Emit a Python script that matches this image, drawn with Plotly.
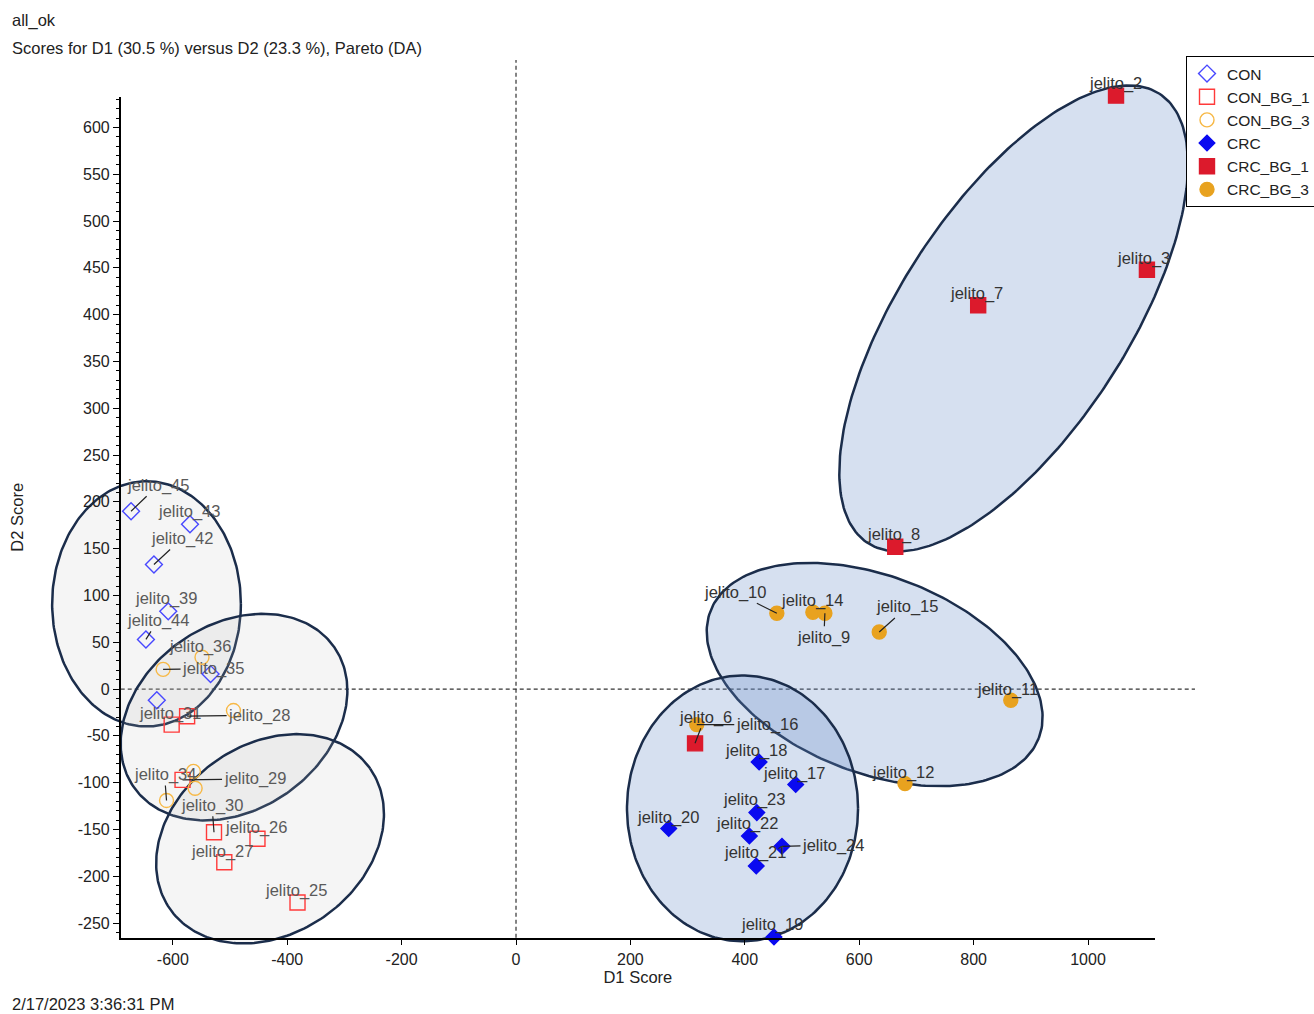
import numpy as np
import plotly.graph_objects as go

# ---------------- data ----------------
group_names = ["CON", "CON_BG_1", "CON_BG_3", "CRC", "CRC_BG_1", "CRC_BG_3"]

con_names = ["jelito_45", "jelito_43", "jelito_42", "jelito_39", "jelito_44", "jelito_40", "jelito_41"]
con_d1 = [-673, -570, -633, -608, -647, -534, -628]
con_d2 = [190, 176, 133, 83, 53, 16, -12]

con_bg1_names = ["jelito_31", "jelito_28", "jelito_29", "jelito_30", "jelito_26", "jelito_27", "jelito_25"]
con_bg1_d1 = [-602, -575, -583, -528, -452, -510, -382]
con_bg1_d2 = [-38, -29, -97, -153, -160, -185, -228]

con_bg3_names = ["jelito_36", "jelito_35", "jelito_32", "jelito_33", "jelito_34", "jelito_37"]
con_bg3_d1 = [-549, -617, -494, -564, -611, -561]
con_bg3_d2 = [34, 21, -23, -88, -119, -106]

crc_names = ["jelito_18", "jelito_17", "jelito_23", "jelito_20", "jelito_22", "jelito_24", "jelito_21", "jelito_19"]
crc_d1 = [425, 489, 421, 267, 408, 465, 420, 451]
crc_d2 = [-78, -102, -132, -149, -157, -168, -189, -265]

crc_bg1_names = ["jelito_2", "jelito_3", "jelito_7", "jelito_8", "jelito_6"]
crc_bg1_d1 = [1049, 1103, 808, 663, 313]
crc_bg1_d2 = [634, 448, 410, 152, -58]

crc_bg3_names = ["jelito_16", "jelito_10", "jelito_14", "jelito_9", "jelito_15", "jelito_11", "jelito_12"]
crc_bg3_d1 = [316, 456, 519, 540, 635, 865, 680]
crc_bg3_d2 = [-38, 81, 82, 81, 61, -12, -101]

# confidence ellipses: centre and two conjugate semi-axis vectors (data units)
ell_groups = ["CRC_BG_1", "CRC_BG_3", "CRC", "CON", "CON_BG_3", "CON_BG_1"]
ell_c_d1 = [870, 627, 396, -646, -493, -430]
ell_c_d2 = [396, 15.5, -127.5, 91, -30, -160]
ell_u_d1 = [255, 287, 202, 165, 175, 175]
ell_u_d2 = [240, -68, 0, 0, 75, 75]
ell_v_d1 = [-167, 62, 0, 0, 93, 95]
ell_v_d2 = [66, 98, 142, 131, -81, -83]

x_ticks = [-600, -400, -200, 0, 200, 400, 600, 800, 1000]
x_tick_labels = ["-600", "-400", "-200", "0", "200", "400", "600", "800", "1000"]
y_ticks = [-250, -200, -150, -100, -50, 0, 50, 100, 150, 200, 250, 300, 350, 400, 450, 500, 550, 600]
y_tick_labels = ["-250", "-200", "-150", "-100", "-50", "0", "50", "100", "150", "200", "250",
                 "300", "350", "400", "450", "500", "550", "600"]

# ---------------- styling ----------------
FONT = "Liberation Sans, Arial, sans-serif"
W, H = 1314, 1014
M_L, M_R, M_T, M_B = 40, 114, 55, 64
X_MAIN = [-832.2, 1195.8]      # full drawing area
Y_MAIN = [-278.8, 677.4]
X_DISP = [-691.1, 1117.1]      # drawn axes
Y_DISP = [-265.7, 632.8]
ZERO_V_TOP = 672
ZERO_H_RIGHT = 1187
TXT = "#222222"

styles = {
    "CON":      dict(symbol="diamond-open", color="#4848ff", size=13),
    "CON_BG_1": dict(symbol="square-open", color="#ff3a3a", size=15),
    "CON_BG_3": dict(symbol="circle-open", color="#f7b845", size=14),
    "CRC":      dict(symbol="diamond", color="#0a0af0", size=12),
    "CRC_BG_1": dict(symbol="square", color="#dc1a2c", size=15),
    "CRC_BG_3": dict(symbol="circle", color="#e8a21f", size=14),
}
CRC_FILL = "rgba(103,140,199,0.27)"
CON_FILL = "rgba(185,185,185,0.15)"
ell_fill = {"CRC": CRC_FILL, "CRC_BG_1": CRC_FILL, "CRC_BG_3": CRC_FILL,
            "CON": CON_FILL, "CON_BG_1": CON_FILL, "CON_BG_3": CON_FILL}
ELL_LINE = "#1b2d4b"

# label offsets in pixels (dx, dy screen, leader line?)
label_offsets = {
    "jelito_2": (-1, -12, False), "jelito_3": (-3, -11, False), "jelito_7": (-2, -12, False),
    "jelito_8": (-2, -12, False), "jelito_6": (10, -26, True), "jelito_16": (70, 0, True),
    "jelito_10": (-42, -21, True), "jelito_14": (-1, -12, False), "jelito_9": (-1, 24, True),
    "jelito_15": (28, -25, True), "jelito_11": (-3, -11, False), "jelito_12": (-2, -11, False),
    "jelito_18": (-3, -12, False), "jelito_17": (-2, -11, False), "jelito_23": (-3, -13, False),
    "jelito_20": (-1, -11, False), "jelito_22": (-2, -13, False), "jelito_24": (51, -1, True),
    "jelito_21": (-1, -13, False), "jelito_19": (-2, -13, False),
    "jelito_45": (27, -26, True), "jelito_43": (-1, -13, False), "jelito_42": (28, -26, True),
    "jelito_39": (-2, -13, False), "jelito_44": (12, -19, True), "jelito_36": (-2, -11, False),
    "jelito_35": (50, -1, True), "jelito_31": (-2, -11, False), "jelito_28": (72, -1, True),
    "jelito_34": (-2, -26, True), "jelito_29": (72, -1, True), "jelito_30": (-2, -27, True),
    "jelito_26": (-1, -11, False), "jelito_27": (-2, -11, False), "jelito_25": (-2, -12, False),
}

groups = {
    "CON": (con_names, con_d1, con_d2),
    "CON_BG_1": (con_bg1_names, con_bg1_d1, con_bg1_d2),
    "CON_BG_3": (con_bg3_names, con_bg3_d1, con_bg3_d2),
    "CRC": (crc_names, crc_d1, crc_d2),
    "CRC_BG_1": (crc_bg1_names, crc_bg1_d1, crc_bg1_d2),
    "CRC_BG_3": (crc_bg3_names, crc_bg3_d1, crc_bg3_d2),
}

fig = go.Figure()

# ellipses
t = np.linspace(0, 2 * np.pi, 240)
for i, g in enumerate(ell_groups):
    ex = ell_c_d1[i] + ell_u_d1[i] * np.cos(t) + ell_v_d1[i] * np.sin(t)
    ey = ell_c_d2[i] + ell_u_d2[i] * np.cos(t) + ell_v_d2[i] * np.sin(t)
    fig.add_trace(go.Scatter(x=ex, y=ey, mode="lines", fill="toself",
                             fillcolor=ell_fill[g], line=dict(color=ELL_LINE, width=2.5),
                             hoverinfo="skip", showlegend=False))

# points
for g in group_names:
    names, d1, d2 = groups[g]
    st = styles[g]
    fig.add_trace(go.Scatter(
        x=d1, y=d2, mode="markers", name=g, text=names,
        hovertemplate="%{text}<br>D1=%{x}<br>D2=%{y}<extra>" + g + "</extra>",
        marker=dict(symbol=st["symbol"], color=st["color"], size=st["size"],
                    line=dict(color=st["color"], width=1.4)),
        cliponaxis=False))

# dummy trace so the display axes are drawn
fig.add_trace(go.Scatter(x=[None], y=[None], xaxis="x2", yaxis="y2",
                         showlegend=False, hoverinfo="skip"))

annotations = []
for g in group_names:
    names, d1, d2 = groups[g]
    col = "#5a5a5a" if g.startswith("CON") else "#333333"
    for n, xv, yv in zip(names, d1, d2):
        if n not in label_offsets:
            continue
        dx, dy, arrow = label_offsets[n]
        a = dict(x=xv, y=yv, xref="x", yref="y", text=n,
                 font=dict(family=FONT, size=16.5, color=col))
        if arrow:
            a.update(showarrow=True, ax=dx, ay=dy, arrowhead=0, arrowwidth=1.2,
                     arrowcolor="#222222", standoff=0)
        else:
            a.update(showarrow=False, xshift=dx, yshift=-dy)
        annotations.append(a)


def px_x(px):
    return (px - M_L) / (W - M_L - M_R)


def px_y(py):
    return (H - M_B - py) / (H - M_T - M_B)


annotations += [
    dict(text="all_ok", x=px_x(10), y=px_y(20), xref="paper", yref="paper",
         xanchor="left", yanchor="middle", showarrow=False,
         font=dict(family=FONT, size=16.5, color=TXT)),
    dict(text="Scores for D1 (30.5 %) versus D2 (23.3 %), Pareto (DA)", x=px_x(10), y=px_y(48),
         xref="paper", yref="paper", xanchor="left", yanchor="middle", showarrow=False,
         font=dict(family=FONT, size=16.5, color=TXT)),
    dict(text="2/17/2023 3:36:31 PM", x=px_x(10), y=px_y(1004), xref="paper", yref="paper",
         xanchor="left", yanchor="middle", showarrow=False,
         font=dict(family=FONT, size=16.5, color=TXT)),
]

xd = [(X_DISP[0] - X_MAIN[0]) / (X_MAIN[1] - X_MAIN[0]), (X_DISP[1] - X_MAIN[0]) / (X_MAIN[1] - X_MAIN[0])]
yd = [(Y_DISP[0] - Y_MAIN[0]) / (Y_MAIN[1] - Y_MAIN[0]), (Y_DISP[1] - Y_MAIN[0]) / (Y_MAIN[1] - Y_MAIN[0])]

dash_line = dict(color="#333333", width=1.2, dash="4px,3px")
shapes = [
    dict(type="line", xref="x", yref="y", x0=0, x1=0, y0=Y_DISP[0], y1=ZERO_V_TOP,
         line=dash_line, layer="below"),
    dict(type="line", xref="x", yref="y", x0=X_DISP[0], x1=ZERO_H_RIGHT, y0=0, y1=0,
         line=dash_line, layer="below"),
]

fig.update_layout(
    width=W, height=H,
    margin=dict(l=M_L, r=M_R, t=M_T, b=M_B, autoexpand=False),
    paper_bgcolor="white", plot_bgcolor="rgba(0,0,0,0)",
    font=dict(family=FONT, size=16, color=TXT),
    xaxis=dict(range=X_MAIN, domain=[0, 1], visible=False, anchor="y"),
    yaxis=dict(range=Y_MAIN, domain=[0, 1], visible=False, anchor="x"),
    xaxis2=dict(range=X_DISP, domain=xd, anchor="y2", showline=True, linecolor="black",
                linewidth=1.5, ticks="outside", ticklen=6, tickcolor="black",
                tickvals=x_ticks, ticktext=x_tick_labels, showgrid=False, zeroline=False,
                tickfont=dict(family=FONT, size=16, color=TXT), automargin=False,
                title=dict(text="D1 Score", standoff=3, font=dict(family=FONT, size=16.5, color=TXT))),
    yaxis2=dict(range=Y_DISP, domain=yd, anchor="x2", showline=True, linecolor="black",
                linewidth=1.5, ticks="outside", ticklen=6, tickcolor="black",
                tickvals=y_ticks, ticktext=y_tick_labels, showgrid=False, zeroline=False,
                minor=dict(dtick=10, ticks="outside", ticklen=3, tickcolor="black", showgrid=False),
                tickfont=dict(family=FONT, size=16, color=TXT), automargin=False,
                title=dict(text="D2 Score", standoff=50, font=dict(family=FONT, size=16.5, color=TXT))),
    legend=dict(x=px_x(1186), y=px_y(56), xanchor="left", yanchor="top",
                bordercolor="black", borderwidth=1, bgcolor="white",
                font=dict(family=FONT, size=15.5, color=TXT), tracegroupgap=0,
                itemwidth=30),
    annotations=annotations,
    shapes=shapes,
    showlegend=True,
)

fig.write_html("out.html", config={"displayModeBar": False},
               post_script="document.body.style.margin='0px';")
